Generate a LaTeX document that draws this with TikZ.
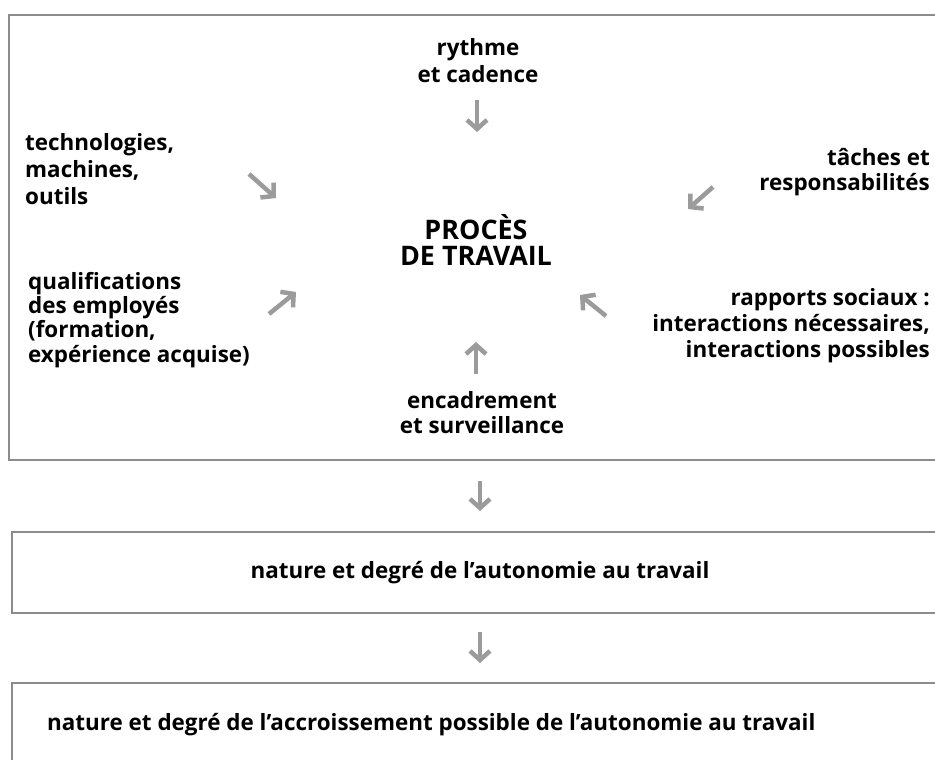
\documentclass[tikz,border=0pt]{standalone}
\usepackage{fontspec}
\setmainfont{Open Sans}
\usetikzlibrary{arrows.meta}
\definecolor{framegray}{RGB}{140,140,140}
\definecolor{arrowgray}{RGB}{155,155,155}
\tikzset{
  frame/.style={draw=framegray, line width=1.8bp},
  lbl/.style={inner sep=0pt, font=\fontsize{22.5}{26}\selectfont\bfseries},
  flow/.style={draw=arrowgray, line width=4.5bp, -{Straight Barb[length=9bp,width=20bp,line width=4.5bp]}}
}
\begin{document}
\begin{tikzpicture}[x=1bp,y=-1bp]
\useasboundingbox (0,0) rectangle (935,760);
\clip (0,0) rectangle (935,760);
% frames
\draw[frame] (9,15) rectangle (950,460);
\draw[frame] (12,532) rectangle (950,613);
\draw[frame] (12,683) rectangle (950,790);
% labels (base anchor = baseline of the last line)
\node[lbl, anchor=base, align=center, font=\fontsize{22.5}{28}\selectfont\bfseries] (rythme) at (478,83) {rythme\\et cadence};
\node[lbl, anchor=base west, align=left, font=\fontsize{22.5}{27}\selectfont\bfseries] (tech) at (25,204) {technologies,\\machines,\\outils};
\node[lbl, anchor=base east, align=right, font=\fontsize{22.5}{25}\selectfont\bfseries] (taches) at (930,190) {tâches et\\responsabilités};
\node[lbl, anchor=base, align=center, font=\fontsize{27}{26}\selectfont\bfseries] (proces) at (476,265) {PROCÈS\\DE TRAVAIL};
\node[lbl, anchor=base west, align=left, font=\fontsize{22.5}{24.3}\selectfont\bfseries] (qualif) at (28,362) {qualifications\\des employés\\(formation,\\expérience acquise)};
\node[lbl, anchor=base east, align=right] (rapports) at (930,357) {rapports sociaux :\\interactions nécessaires,\\interactions possibles};
\node[lbl, anchor=base, align=center, font=\fontsize{22.5}{25}\selectfont\bfseries] (encadr) at (482,433) {encadrement\\et surveillance};
\node[lbl, anchor=base] (auto) at (480,578) {nature et degré de l’autonomie au travail};
\node[lbl, anchor=base west] (accr) at (47,730) {nature et degré de l’accroissement possible de l’autonomie au travail};
% arrow end points
\coordinate (t1) at (477,100); \coordinate (t2) at (477,132);
\coordinate (tl1) at (249,174); \coordinate (tl2) at (276,198);
\coordinate (tr1) at (713,187); \coordinate (tr2) at (688,209);
\coordinate (bl1) at (269,314); \coordinate (bl2) at (296,292);
\coordinate (br1) at (606,316); \coordinate (br2) at (580,295);
\coordinate (b1) at (476,374); \coordinate (b2) at (476,342);
\coordinate (d1) at (480,481); \coordinate (d2) at (480,511);
\coordinate (e1) at (480,632); \coordinate (e2) at (480,663);
\draw[flow] (t1) -- (t2);
\draw[flow] (tl1) -- (tl2);
\draw[flow] (tr1) -- (tr2);
\draw[flow] (bl1) -- (bl2);
\draw[flow] (br1) -- (br2);
\draw[flow] (b1) -- (b2);
\draw[flow] (d1) -- (d2);
\draw[flow] (e1) -- (e2);
\end{tikzpicture}
\end{document}
